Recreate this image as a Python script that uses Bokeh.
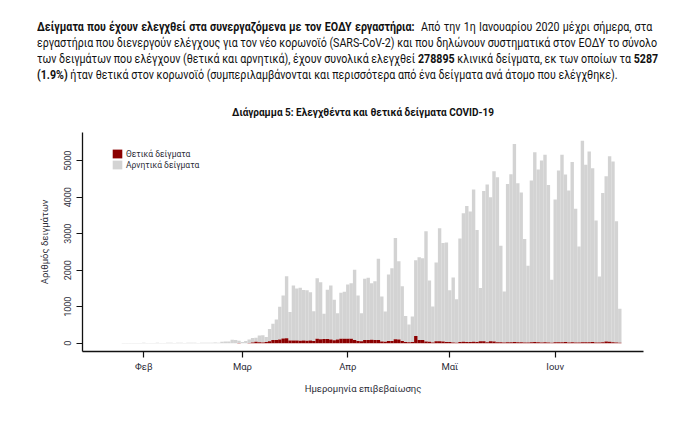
import pandas as pd
from bokeh.plotting import figure
from bokeh.models import FixedTicker, Range1d, Legend, LegendItem, Div, ColumnDataSource
from bokeh.layouts import column
from bokeh.embed import file_html
from bokeh.resources import INLINE

# ---------------- data ----------------
start_date = "2020-01-26"
ref_date = "2020-02-01"

# total samples tested per day (top of each stacked bar)
totals = [
    4, 6, 3, 8, 5, 7, 10, 6, 5, 9, 12, 7, 8, 11, 14, 9, 10, 13, 8, 12,
    15, 10, 9, 16, 12, 10, 14, 18, 16,
    40, 50, 45, 95, 90, 70, 30, 60, 100, 140, 150, 210, 215, 170, 390, 530, 650,
    1000, 1307, 1836, 852, 1580, 1500, 1520, 1460, 1450, 1397, 877, 1781, 1671, 805, 1463,
    1581, 1189, 822, 1381, 1408, 1608, 1644, 2011, 1307, 822,
    1764, 1792, 1644, 1700, 2312, 1279, 868, 1882, 2055, 2886,
    2246, 1562, 749, 511, 730, 2275, 2356, 2329, 3067, 1718,
    1005, 2210, 3150, 2749, 2758, 1453, 1800, 1207, 2868, 3560,
    3761, 3606, 4209, 3105, 1516, 4173, 4346, 3999, 4711, 4547,
    2667, 1416, 4365, 4630, 5457, 4383, 4127, 2858, 2119, 4456,
    5233, 4758, 5005, 5160, 4337, 1736, 3935, 4730, 5160, 4620,
    4182, 4968, 3681, 2649, 5545, 4888, 5251, 4795, 3361, 1828,
    4118, 4575, 5124, 4978, 3343, 941,
]

# positive samples per day (red part at the bottom)
positives = [
    0, 0, 0, 0, 0, 0, 0, 0, 0, 0, 0, 0, 0, 0, 0, 0, 0, 0, 0, 0,
    0, 0, 0, 0, 0, 0, 0, 0, 0,
    0, 0, 1, 2, 1, 3, 2, 1, 3, 20, 40, 25, 20, 30, 55, 85, 90,
    105, 130, 135, 75, 73, 75, 70, 73, 70, 72, 60, 125, 110, 115, 118,
    100, 80, 100, 125, 125, 120, 120, 90, 64, 55,
    91, 90, 92, 88, 91, 46, 40, 64, 62, 110,
    105, 64, 36, 27, 30, 200, 91, 85, 46, 40,
    18, 55, 55, 50, 36, 36, 18, 15, 36, 38,
    34, 36, 40, 35, 55, 52, 27, 55, 50, 27,
    27, 22, 28, 25, 30, 26, 24, 20, 18, 27,
    30, 25, 22, 28, 20, 15, 24, 28, 26, 30,
    22, 25, 20, 18, 26, 24, 28, 30, 22, 18,
    25, 45, 40, 26, 22, 12,
]

month_starts = ["2020-02-01", "2020-03-01", "2020-04-01", "2020-05-01", "2020-06-01"]
month_labels = ["Φεβ", "Μαρ", "Απρ", "Μαϊ", "Ιουν"]
y_ticks = [0, 1000, 2000, 3000, 4000, 5000]

# ---------------- derived positions ----------------
ref = pd.Timestamp(ref_date)
dates = pd.date_range(start_date, periods=len(totals), freq="D")
xs = [(d - ref).days for d in dates]
tick_x = [(pd.Timestamp(m) - ref).days for m in month_starts]

src = ColumnDataSource(dict(x=xs, tot=totals, pos=positives))

CHART_FONT = "Roboto"
TXT = "#2d2d38"

p = figure(width=684, height=334, output_backend="svg", toolbar_location=None,
           x_range=Range1d(-18.03, 146.97), y_range=Range1d(-227, 5773),
           min_border_left=82, min_border_right=41, min_border_top=42, min_border_bottom=73,
           title="Διάγραμμα 5: Ελεγχθέντα και θετικά δείγματα COVID-19")
p.title.align = "center"
p.title.vertical_align = "middle"
p.title.text_font = CHART_FONT
p.title.text_font_size = "10px"
p.title.text_font_style = "bold"
p.title.text_color = "#111111"
p.title.standoff = 28

neg = p.vbar(x="x", width=1.0, bottom="pos", top="tot", source=src,
             fill_color="#D3D3D3", line_color=None)
posr = p.vbar(x="x", width=1.0, bottom=0, top="pos", source=src,
              fill_color="#8B0000", line_color=None)

legend = Legend(items=[LegendItem(label="Θετικά δείγματα", renderers=[posr]),
                       LegendItem(label="Αρνητικά δείγματα", renderers=[neg])],
                location=(29, 181), padding=0, margin=0, spacing=0,
                glyph_width=12, glyph_height=11, label_height=11, label_standoff=3,
                background_fill_alpha=0, border_line_alpha=0,
                label_text_font=CHART_FONT, label_text_font_size="8.5px",
                label_text_color=TXT)
p.add_layout(legend)

p.xgrid.visible = False
p.ygrid.visible = False
p.outline_line_color = None

for ax in (p.xaxis, p.yaxis):
    ax.axis_line_color = "#111111"
    ax.axis_line_width = 1.3
    ax.major_tick_line_color = "#111111"
    ax.major_tick_line_width = 1.2
    ax.major_tick_in = 0
    ax.major_tick_out = 6
    ax.minor_tick_line_color = None
    ax.major_label_text_font = CHART_FONT
    ax.major_label_text_font_size = "9.5px"
    ax.major_label_text_color = TXT
    ax.axis_label_text_font = CHART_FONT
    ax.axis_label_text_font_size = "9.5px"
    ax.axis_label_text_font_style = "normal"
    ax.axis_label_text_color = TXT

p.xaxis.ticker = FixedTicker(ticks=tick_x)
p.xaxis.major_label_overrides = {t: lab for t, lab in zip(tick_x, month_labels)}
p.xaxis.major_label_standoff = 3
p.xaxis.axis_label = "Ημερομηνία επιβεβαίωσης"
p.xaxis.axis_label_standoff = 8

p.yaxis.ticker = FixedTicker(ticks=y_ticks)
p.yaxis.major_label_orientation = "vertical"
p.yaxis.major_label_standoff = 5
p.yaxis.axis_label = "Αριθμός δειγμάτων"
p.yaxis.axis_label_standoff = 12
p.yaxis.major_label_text_font_size = "9px"

SX = 0.889
W = round(615 / SX)
line_style = ("white-space:nowrap;text-align:justify;text-align-last:justify;"
              f"width:{W}px;transform:scaleX({SX});transform-origin:0 0;")
last_style = f"white-space:nowrap;width:{W}px;transform:scaleX({SX});transform-origin:0 0;"
html = (
    "<div style=\"font-family:'Roboto',sans-serif;font-size:12px;"
    "line-height:16px;color:#111;width:630px;margin-left:37px;padding-top:19px;overflow:hidden;\">"
    f"<div style='{line_style}'><b>Δείγματα που έχουν ελεγχθεί στα συνεργαζόμενα με τον ΕΟΔΥ εργαστήρια:</b>&nbsp; "
    "Από την 1η Ιανουαρίου 2020 μέχρι σήμερα, στα</div>"
    f"<div style='{line_style}'>εργαστήρια που διενεργούν ελέγχους για τον νέο κορωνοϊό (SARS-CoV-2) και που "
    "δηλώνουν συστηματικά στον ΕΟΔΥ το σύνολο</div>"
    f"<div style='{line_style}'>των δειγμάτων που ελέγχουν (θετικά και αρνητικά), έχουν συνολικά ελεγχθεί "
    "<b>278895</b> κλινικά δείγματα, εκ των οποίων τα <b>5287</b></div>"
    f"<div style='{last_style}'><b>(1.9%)</b> ήταν θετικά στον κορωνοϊό (συμπεριλαμβάνονται και "
    "περισσότερα από ένα δείγματα ανά άτομο που ελέγχθηκε).</div>"
    "</div>"
)
div = Div(text=html, width=684, height=90, margin=0)

layout = column(div, p)
open("out.html", "w").write(file_html(layout, INLINE))
